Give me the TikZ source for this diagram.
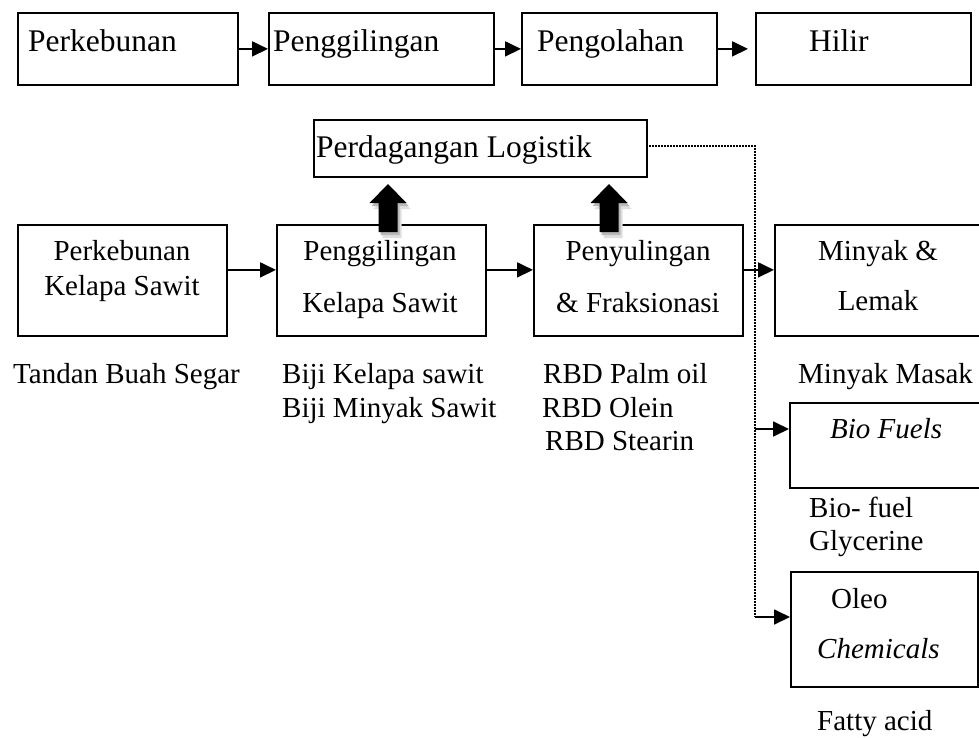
\documentclass[tikz,border=0pt]{standalone}
\usepackage{fontspec}
\setmainfont{Liberation Serif}
\usetikzlibrary{arrows.meta}
\begin{document}
\begin{tikzpicture}[x=1pt,y=-1pt,
  box/.style={draw,line width=1.8pt,inner sep=0pt,anchor=north west},
  txt/.style={inner sep=0pt,font=\fontsize{29}{34}\selectfont},
  big/.style={inner sep=0pt,anchor=base west,font=\fontsize{31.5}{36}\selectfont},
  arr/.style={line width=1.8pt,-{Triangle[length=16pt,width=15pt]}},
  dotline/.style={line width=1.5pt,dash pattern=on 1.5pt off 1.5pt},
  blockarr/.pic={
    \fill[gray!25] (-5.5,6) -- (-5.5,-23) -- (-14.5,-23) -- (4,-42) -- (22.5,-23) -- (13.5,-23) -- (13.5,6) -- cycle;
    \fill[gray!55] (-7.5,3) -- (-7.5,-26) -- (-16.5,-26) -- (2,-45) -- (20.5,-26) -- (11.5,-26) -- (11.5,3) -- cycle;
    \fill[black] (-9.5,0) -- (-9.5,-29) -- (-18.5,-29) -- (0,-48) -- (18.5,-29) -- (9.5,-29) -- (9.5,0) -- cycle;
  }]
\useasboundingbox (0,0) rectangle (979,738);
\clip (0,0) rectangle (979,738);

% top row
\node[box,minimum width=220pt,minimum height=72pt] (t1) at (17,12) {};
\node[box,minimum width=225pt,minimum height=72pt] (t2) at (268,12) {};
\node[box,minimum width=195pt,minimum height=72pt] (t3) at (521,12) {};
\node[box,minimum width=215pt,minimum height=72pt] (t4) at (755,12) {};
\node[big] (t1t) at (28,52) {Perkebunan};
\node[big] (t2t) at (273,52) {Penggilingan};
\node[big] (t3t) at (537,52) {Pengolahan};
\node[big] (t4t) at (809,52) {Hilir};
\draw[arr] (t1.east) -- (t2.west);
\draw[arr] (t2.east) -- (t3.west);
\draw[arr] (t3.east) -- ([xshift=-7pt]t4.west);

% logistics box
\node[box,minimum width=333pt,minimum height=57pt] (pl) at (313,119) {};
\node[big] (plt) at (316,158) {Perdagangan Logistik};

% middle row
\node[box,minimum width=209pt,minimum height=111pt] (m1) at (17,224) {};
\node[box,minimum width=209pt,minimum height=111pt] (m2) at (276,224) {};
\node[box,minimum width=209pt,minimum height=111pt] (m3) at (533,224) {};
\node[box,minimum width=209pt,minimum height=111pt] (m4) at (774,224) {};
\node[txt,anchor=base] (m1a) at (122,260) {Perkebunan};
\node[txt,anchor=base] (m1b) at (122,295) {Kelapa Sawit};
\node[txt,anchor=base] (m2a) at (380,260) {Penggilingan};
\node[txt,anchor=base] (m2b) at (380,312) {Kelapa Sawit};
\node[txt,anchor=base] (m3a) at (638,260) {Penyulingan};
\node[txt,anchor=base] (m3b) at (638,312) {\& Fraksionasi};
\node[txt,anchor=base] (m4a) at (878,260) {Minyak \&};
\node[txt,anchor=base] (m4b) at (878,310) {Lemak};
\draw[arr] ([yshift=10.5pt]m1.east) -- ([yshift=10.5pt]m2.west);
\draw[arr] ([yshift=10.5pt]m2.east) -- ([yshift=10.5pt]m3.west);
\draw[arr] ([yshift=10.5pt]m3.east) -- ([yshift=10.5pt]m4.west);

% block arrows
\pic at (388,232) {blockarr};
\pic at (609,232) {blockarr};

% labels under boxes
\node[txt,anchor=base west] (l1) at (13,383) {Tandan Buah Segar};
\node[txt,anchor=base west] (l2) at (282,383) {Biji Kelapa sawit};
\node[txt,anchor=base west] (l3) at (282,417) {Biji Minyak Sawit};
\node[txt,anchor=base west] (l4) at (543,383) {RBD Palm oil};
\node[txt,anchor=base west] (l5) at (542,417) {RBD Olein};
\node[txt,anchor=base west] (l6) at (545,450) {RBD Stearin};
\node[txt,anchor=base west] (l7) at (798,383) {Minyak Masak};

% right column
\node[box,minimum width=194pt,minimum height=85pt] (bf) at (789,402) {};
\node[txt,anchor=base west] (bft) at (830,438) {\itshape Bio Fuels};
\node[txt,anchor=base west] (l8) at (809,517) {Bio- fuel};
\node[txt,anchor=base west] (l9) at (809,550) {Glycerine};
\node[box,minimum width=187pt,minimum height=115pt] (oc) at (790,571) {};
\node[txt,anchor=base west] (oca) at (831,608) {Oleo};
\node[txt,anchor=base west] (ocb) at (817,658) {\itshape Chemicals};
\node[txt,anchor=base west] (l10) at (817,730) {Fatty acid};

% dotted distribution line
\coordinate (j2) at (755,429);
\coordinate (j3) at (755,617);
\draw[dotline] ([shift={(1.5pt,2.5pt)}]pl.east) -| (j3);
\draw[arr] (j2) -- (j2 -| bf.west);
\draw[arr] (j3) -- (j3 -| oc.west);
\end{tikzpicture}
\end{document}
